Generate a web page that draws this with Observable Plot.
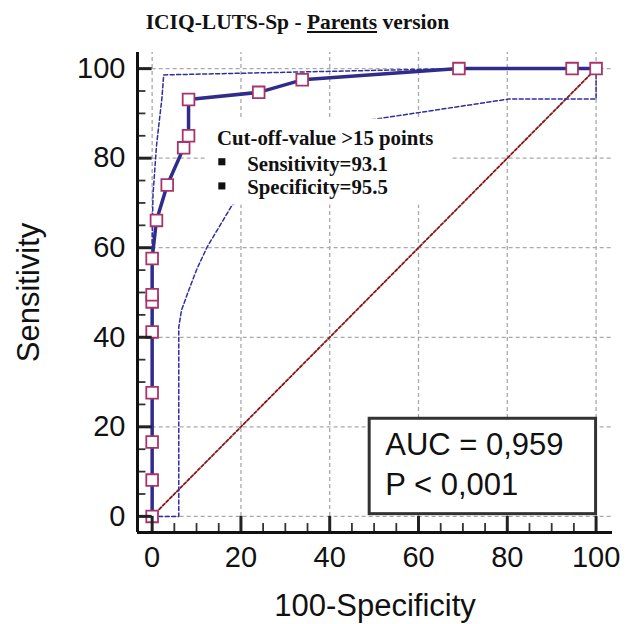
<!DOCTYPE html>
<html>
<head>
<meta charset="utf-8">
<script src="https://cdn.jsdelivr.net/npm/d3@7"></script>
<script src="https://cdn.jsdelivr.net/npm/@observablehq/plot@0.6"></script>
<style>
  html, body { margin: 0; padding: 0; background: white; }
  #wrap { width: 633px; height: 624px; position: relative; overflow: hidden; }
  #title { position: relative; height: 44px; }
  #title span { position: absolute; left: 0; width: 595px; top: 12px; text-align: center;
    font: bold 21.5px "Liberation Serif", "Times New Roman", serif; line-height: 1; color: #111; }
  #chart svg { display: block; }
</style>
</head>
<body>
<div id="wrap">
  <div id="title"><span>ICIQ-LUTS-Sp - <u>Parents</u> version</span></div>
  <div id="chart"></div>
</div>
<script>
// ROC curve points (100-Specificity, Sensitivity)
const rocX = [0, 0, 0, 0, 0, 0, 0, 0, 0.97, 3.4, 7.1, 8.2, 8.2, 24.0, 33.8, 69.1, 94.6, 100];
const rocY = [0, 8.1, 16.6, 27.6, 41.2, 47.9, 49.5, 57.6, 66.1, 74.0, 82.3, 85.0, 93.1, 94.7, 97.5, 100, 100, 100];
// 95% confidence bounds
const upperX = [0, 0, 0.2, 1.0, 2.2, 2.6, 68.7, 100];
const upperY = [0, 62, 72, 83, 93.4, 98.6, 100, 100];
const lowerX = [0, 6.0, 6.0, 6.6, 8.2, 10.1, 12.4, 15.0, 18.0, 48.8, 80.3, 100, 100];
const lowerY = [0, 0, 42.3, 46.0, 50.4, 55.3, 60.2, 64.5, 69.5, 88.5, 93.2, 93.2, 100];
// reference diagonal
const diagX = [0, 100];
const diagY = [0, 100];
// ticks
const majorTicks = [0, 20, 40, 60, 80, 100];
const minorTicks = [5, 10, 15, 25, 30, 35, 45, 50, 55, 65, 70, 75, 85, 90, 95];
// labels
const xLabel = "100-Specificity";
const yLabel = "Sensitivity";
const noteTitle = "Cut-off-value >15 points";
const noteItems = ["Sensitivity=93.1", "Specificity=95.5"];
const aucLines = ["AUC = 0,959", "P < 0,001"];

const roc = rocX.map((x, i) => ({x, y: rocY[i]}));
const upper = upperX.map((x, i) => ({x, y: upperY[i]}));
const lower = lowerX.map((x, i) => ({x, y: lowerY[i]}));
const diag = diagX.map((x, i) => ({x, y: diagY[i]}));

const xDom = [-3.3, 103.7];
const yDom = [-3.6, 103.6];
const navy = "#302c8c";
const bandColor = "#2f2fa0";
const gridColor = "#a9a9a9";
const serif = "'Liberation Serif', 'Times New Roman', serif";

const chart = Plot.plot({
  width: 633,
  height: 580,
  marginLeft: 137,
  marginRight: 21,
  marginTop: 8,
  marginBottom: 92,
  style: {fontFamily: "'Liberation Sans', Arial, sans-serif", background: "white", color: "#111"},
  x: {domain: xDom},
  y: {domain: yDom},
  marks: [
    // gridlines
    Plot.ruleY(majorTicks, {y: d => d, x1: 0, x2: xDom[1], stroke: gridColor, strokeWidth: 1.3, strokeDasharray: "4,3"}),
    Plot.ruleX(majorTicks, {x: d => d, y1: 0, y2: yDom[1], stroke: gridColor, strokeWidth: 1.3, strokeDasharray: "4,3"}),
    // diagonal
    Plot.line(diag, {x: "x", y: "y", stroke: "#8b1414", strokeWidth: 1.8, strokeDasharray: "3,2"}),
    // confidence bounds
    Plot.line(upper, {x: "x", y: "y", stroke: bandColor, strokeWidth: 1.5, strokeDasharray: "4,2.5"}),
    Plot.line(lower, {x: "x", y: "y", stroke: bandColor, strokeWidth: 1.5, strokeDasharray: "4,2.5"}),
    // ROC curve
    Plot.line(roc, {x: "x", y: "y", stroke: navy, strokeWidth: 3.5}),
    Plot.dot(roc, {x: "x", y: "y", symbol: "square", r: 6.6, fill: "white", stroke: "#a8346a", strokeWidth: 1.8}),
    // cut-off note
    Plot.rect([0], {x1: 12.5, x2: 67.4, y1: 69.5, y2: 88.7, fill: "white"}),
    Plot.text([noteTitle], {x: 14.6, y: 82.9, text: d => d, textAnchor: "start", lineAnchor: "bottom",
      fontFamily: serif, fontWeight: "bold", fontSize: 20.8, fill: "#111"}),
    Plot.text(noteItems, {x: 21.4, y: (d, i) => [77.2, 71.9][i], text: d => d, textAnchor: "start", lineAnchor: "bottom",
      fontFamily: serif, fontWeight: "bold", fontSize: 20.8, fill: "#111"}),
    Plot.dot(noteItems, {x: 15.7, y: (d, i) => [79.2, 73.8][i], symbol: "square", r: 4, fill: "#111"}),
    // AUC box
    Plot.rect([0], {x1: 49, x2: 100, y1: 0.5, y2: 21.8, fill: "white", stroke: "#333", strokeWidth: 3}),
    Plot.text(aucLines, {x: 52.5, y: (d, i) => [13.6, 4.8][i], text: d => d, textAnchor: "start", lineAnchor: "bottom",
      fontSize: 31, fill: "#111"}),
    // tick marks
    Plot.ruleY(majorTicks, {y: d => d, x1: xDom[0], x2: 0, stroke: "#222", strokeWidth: 3}),
    Plot.ruleY(minorTicks, {y: d => d, x1: xDom[0], x2: -1.4, stroke: "#333", strokeWidth: 1.8}),
    Plot.ruleX(majorTicks, {x: d => d, y1: yDom[0], y2: 0, stroke: "#222", strokeWidth: 3}),
    Plot.ruleX(minorTicks, {x: d => d, y1: yDom[0], y2: -1.6, stroke: "#333", strokeWidth: 1.8}),
    // axis lines
    Plot.ruleX([xDom[0]], {y1: yDom[0], y2: yDom[1], stroke: "#111", strokeWidth: 3}),
    Plot.ruleY([yDom[0]], {x1: xDom[0], x2: xDom[1], stroke: "#111", strokeWidth: 3}),
    // tick labels
    Plot.axisY({ticks: majorTicks, tickSize: 0, tickPadding: 12, fontSize: 29, label: null}),
    Plot.axisX({ticks: majorTicks, tickSize: 0, tickPadding: 14, fontSize: 29, label: null}),
    // axis titles
    Plot.text([xLabel], {frameAnchor: "bottom", dy: 83, textAnchor: "middle", lineAnchor: "bottom", fontSize: 31, fill: "#111"}),
    Plot.text([yLabel], {frameAnchor: "left", dx: -108, textAnchor: "middle", lineAnchor: "middle", rotate: -90, fontSize: 31, fill: "#111"})
  ]
});
document.getElementById("chart").appendChild(chart);
</script>
</body>
</html>
